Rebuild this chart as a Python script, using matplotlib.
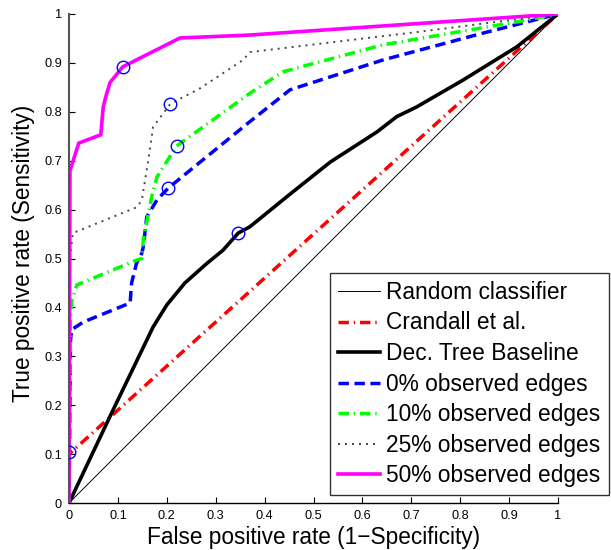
import numpy as np
import matplotlib.pyplot as plt

plt.rcParams['font.family'] = ['Liberation Sans', 'DejaVu Sans']

# ROC curves (FPR, TPR)
rand_x = [0, 1]
rand_y = [0, 1]

crandall_x = [0, 0, 1]
crandall_y = [0, 0.10, 1]

tree_x = [0, 0.09, 0.172, 0.2, 0.237, 0.282, 0.315, 0.346, 0.37, 0.45, 0.534, 0.63, 0.67, 0.711, 0.806, 0.916, 1]
tree_y = [0, 0.19, 0.36, 0.405, 0.45, 0.49, 0.517, 0.552, 0.565, 0.63, 0.697, 0.759, 0.79, 0.81, 0.865, 0.933, 1]

obs0_x = [0, 0.003, 0.005, 0.029, 0.125, 0.128, 0.138, 0.149, 0.152, 0.159, 0.18, 0.203, 0.241, 0.37, 0.452, 0.642, 0.847, 1]
obs0_y = [0, 0.33, 0.354, 0.37, 0.409, 0.45, 0.49, 0.511, 0.524, 0.585, 0.62, 0.644, 0.675, 0.78, 0.845, 0.906, 0.961, 1]

obs10_x = [0, 0.003, 0.006, 0.016, 0.139, 0.149, 0.152, 0.169, 0.18, 0.22, 0.37, 0.438, 0.642, 0.916, 1]
obs10_y = [0, 0.38, 0.415, 0.446, 0.497, 0.5, 0.538, 0.626, 0.667, 0.73, 0.838, 0.882, 0.937, 0.984, 1]

obs25_x = [0, 0.002, 0.008, 0.139, 0.149, 0.16, 0.172, 0.207, 0.268, 0.356, 0.37, 0.711, 1]
obs25_y = [0, 0.5, 0.552, 0.605, 0.62, 0.687, 0.769, 0.816, 0.848, 0.906, 0.922, 0.963, 1]

obs50_x = [0, 0.002, 0.02, 0.065, 0.07, 0.075, 0.084, 0.11, 0.227, 0.37, 1]
obs50_y = [0, 0.68, 0.736, 0.753, 0.81, 0.83, 0.86, 0.892, 0.951, 0.957, 1]

# operating points marked with circles
mark_x = [0.0, 0.346, 0.203, 0.22, 0.207, 0.11]
mark_y = [0.104, 0.552, 0.644, 0.73, 0.816, 0.892]

ticks = [0, 0.1, 0.2, 0.3, 0.4, 0.5, 0.6, 0.7, 0.8, 0.9, 1]
tick_labels = ['0', '0.1', '0.2', '0.3', '0.4', '0.5', '0.6', '0.7', '0.8', '0.9', '1']

fig = plt.figure(figsize=(6.11, 5.5), dpi=100)
ax = fig.add_axes([69/611, 47/550, 489/611, 489/550])

ax.plot(rand_x, rand_y, color='black', lw=0.7, label='Random classifier')
ax.plot(crandall_x, crandall_y, color='#ff0000', lw=2.5, ls=(0, (3.0, 1.4, 0.4, 1.4)), label='Crandall et al.')
ax.plot(tree_x, tree_y, color='black', lw=2.6, label='Dec. Tree Baseline')
ax.plot(obs0_x, obs0_y, color='#0000ff', lw=2.5, ls=(0, (3.0, 1.6)), label='0% observed edges')
ax.plot(obs10_x, obs10_y, color='#00ff00', lw=2.5, ls=(0, (3.0, 1.4, 0.4, 1.4)), label='10% observed edges')
ax.plot(obs25_x, obs25_y, color='#444444', lw=1.4, ls=(0, (1, 2.6)), label='25% observed edges')
ax.plot(obs50_x, obs50_y, color='#ff00ff', lw=2.6, label='50% observed edges')
ax.plot(mark_x, mark_y, 'o', mfc='none', mec='#0000ff', ms=9, mew=1, zorder=5)

ax.set_xlim(0, 1)
ax.set_ylim(0, 1)
ax.set_xticks(ticks)
ax.set_xticklabels(tick_labels)
ax.set_yticks(ticks)
ax.set_yticklabels(tick_labels)
ax.tick_params(direction='in', length=4, width=0.8, labelsize=9.2, pad=5)
ax.spines['top'].set_visible(False)
ax.spines['right'].set_visible(False)
ax.spines['left'].set_color('#555555')
ax.spines['left'].set_linewidth(1.5)
ax.spines['bottom'].set_linewidth(1.0)

ax.set_xlabel('False positive rate (1\u2212Specificity)', fontsize=16.3)
ax.set_ylabel('True positive rate (Sensitivity)', fontsize=16.3)
ax.xaxis.set_label_coords(0.5, -23/489, transform=ax.transAxes)
ax.yaxis.set_label_coords(-34/489, 0.51, transform=ax.transAxes)

leg = fig.legend(loc='upper left', bbox_to_anchor=(330/611, 1 - 273/550), fontsize=16.4,
                 frameon=True, fancybox=False, edgecolor='black', handlelength=1.85,
                 labelspacing=0.33, borderpad=0.35, handletextpad=0.28, borderaxespad=0)
leg.get_frame().set_linewidth(1.0)

fig.savefig('out.png', dpi=100)
